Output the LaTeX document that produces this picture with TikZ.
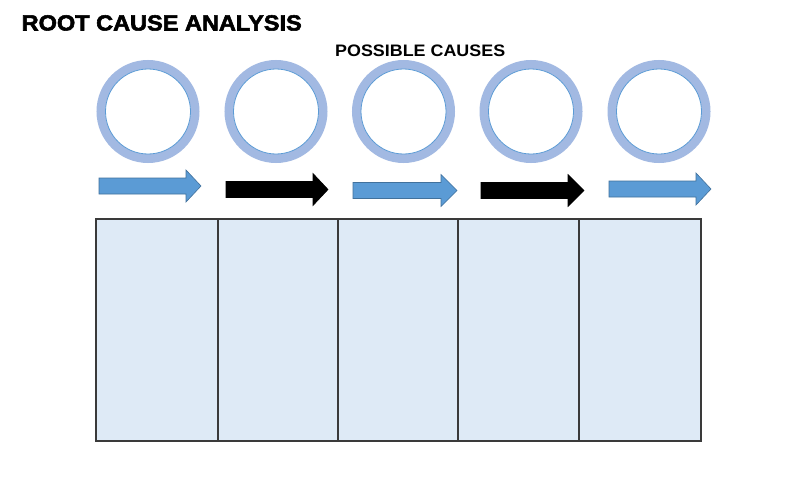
\documentclass[tikz,border=0pt]{standalone}
\usepackage{fontspec}
\setmainfont{Liberation Sans}
\newfontfamily\blackfont{Liberation Sans}[BoldFeatures={FakeBold=2.5}]
\usepackage{graphicx}
\definecolor{ringc}{HTML}{A2B9E2}
\definecolor{ringline}{HTML}{5B9BD5}
\definecolor{arrowfill}{HTML}{5B9BD5}
\definecolor{arrowline}{HTML}{41719C}
\definecolor{cellfill}{HTML}{DEEAF6}
\definecolor{cellline}{HTML}{3A3A3A}
\tikzset{
  ring/.style={draw=ringc, line width=9pt},
  ringin/.style={draw=ringline, line width=0.8pt, fill=white},
  bluearrow/.style={fill=arrowfill, draw=arrowline, line width=0.6pt},
  blackarrow/.style={fill=black, draw=black, line width=0.6pt},
  cell/.style={fill=cellfill, draw=cellline, line width=1.1pt},
}
\newcommand{\fatarrow}[5]{% style, x0, shaft end, tip, yc
  \draw[#1] (#2,#5-8) -- (#3,#5-8) -- (#3,#5-16) -- (#4,#5) -- (#3,#5+16) -- (#3,#5+8) -- (#2,#5+8) -- cycle;
}
\begin{document}
\begin{tikzpicture}[x=1pt,y=-1pt]
\useasboundingbox (0,0) rectangle (800,487);
\fill[white] (0,0) rectangle (800,487);
% title
\node[anchor=base west, inner sep=0] (title) at (21.5,30.5)
  {\resizebox{280pt}{15.3pt}{\blackfont\bfseries ROOT CAUSE ANALYSIS}};
\node[anchor=base west, inner sep=0] (sub) at (335,56.3)
  {\resizebox{170pt}{11.6pt}{\bfseries POSSIBLE CAUSES}};
% rings
\foreach \cx [count=\i] in {148,276,403.5,531,659} {
  \draw[ring] (\cx,111.5) circle (47);
  \draw[ringin] (\cx,111.5) circle (42.5);
  \node[inner sep=0, minimum size=85pt] (c\i) at (\cx,111.5) {};
}
% arrows
\fatarrow{bluearrow}{99}{186}{201}{186}
\fatarrow{blackarrow}{226}{313}{328}{189.5}
\fatarrow{bluearrow}{353}{441}{457}{190.5}
\fatarrow{blackarrow}{481}{568}{584}{190.5}
\fatarrow{bluearrow}{609}{696}{711}{189}
% table
\foreach \xa/\xb [count=\i] in {96/218, 218/338, 338/458, 458/579, 579/701} {
  \draw[cell] (\xa,219) rectangle (\xb,441);
}
\end{tikzpicture}
\end{document}
